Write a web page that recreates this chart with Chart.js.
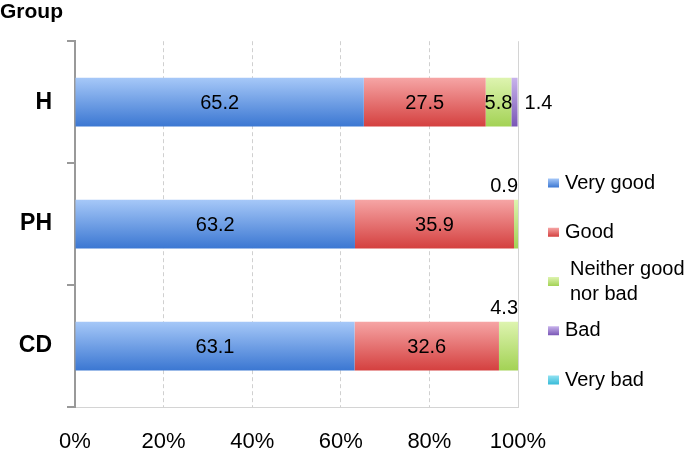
<!DOCTYPE html>
<html>
<head>
<meta charset="utf-8">
<script src="https://cdn.jsdelivr.net/npm/chart.js@4.4.0/dist/chart.umd.min.js"></script>
<style>
  html, body { margin: 0; padding: 0; background: #fff; }
  #wrap { width: 685px; height: 450px; }
</style>
</head>
<body>
<div id="wrap"><canvas id="chart" width="685" height="450"></canvas></div>
<script>
// data (percent of each group)
const groups = ['H', 'PH', 'CD'];
const seriesNames = ['Very good', 'Good', 'Neither good nor bad', 'Bad', 'Very bad'];
const veryGood = [65.2, 63.2, 63.1];
const good = [27.5, 35.9, 32.6];
const neither = [5.8, 0.9, 4.3];
const bad = [1.4, 0, 0];
const veryBad = [0, 0, 0];
const xTicks = [0, 20, 40, 60, 80, 100];

// top / bottom colours of the excel-like gradient
const PALETTE = [
  ['#a6c8f8', '#3b77d2'],
  ['#f6a5a5', '#d4403f'],
  ['#def4b0', '#a3d255'],
  ['#c8b3ec', '#7a57b6'],
  ['#92e2f2', '#38bbd8']
];
const FONT = '"Liberation Sans", Arial, sans-serif';
Chart.defaults.font.family = FONT;

function vGradient(ctx, top, bottom, colors) {
  const g = ctx.createLinearGradient(0, top, 0, bottom);
  g.addColorStop(0, colors[0]);
  g.addColorStop(1, colors[1]);
  return g;
}

function barFill(colors) {
  return (c) => {
    const chart = c.chart;
    const y = chart.scales.y;
    if (!y || c.dataIndex === undefined || !chart.chartArea) return colors[1];
    const mid = y.getPixelForValue(c.dataIndex);
    const half = (y.height / groups.length) * 0.4 / 2;
    return vGradient(chart.ctx, mid - half, mid + half, colors);
  };
}

function wrapText(ctx, text, maxWidth) {
  const words = text.split(' ');
  const lines = [];
  let line = '';
  words.forEach(w => {
    const test = line ? line + ' ' + w : w;
    if (ctx.measureText(test).width > maxWidth && line) {
      lines.push(line);
      line = w;
    } else {
      line = test;
    }
  });
  if (line) lines.push(line);
  return lines;
}

// values written on / next to the bars
const valueLabels = {
  id: 'valueLabels',
  afterDatasetsDraw(chart) {
    const { ctx } = chart;
    ctx.save();
    ctx.font = '20px ' + FONT;
    ctx.fillStyle = '#000';
    ctx.textBaseline = 'middle';
    chart.data.datasets.forEach((ds, di) => {
      const meta = chart.getDatasetMeta(di);
      meta.data.forEach((bar, i) => {
        const v = ds.data[i];
        if (!v) return;
        const { x, y, base, height } = bar.getProps(['x', 'y', 'base', 'height'], true);
        const text = v.toFixed(1);
        if (v >= 5) {
          ctx.textAlign = 'center';
          ctx.fillText(text, (x + base) / 2, y + 1);
        } else if (di === 3) {
          ctx.textAlign = 'left';
          ctx.fillText(text, x + 7, y + 1);
        } else {
          ctx.textAlign = 'right';
          ctx.fillText(text, x, y - height / 2 - 13);
        }
      });
    });
    ctx.restore();
  }
};

// right frame line + legend at the side
const sideLegend = {
  id: 'sideLegend',
  afterDraw(chart) {
    const { ctx, chartArea } = chart;
    ctx.save();
    ctx.strokeStyle = '#d4d4d4';
    ctx.lineWidth = 1;
    ctx.beginPath();
    ctx.moveTo(chartArea.right + 0.5, chartArea.top);
    ctx.lineTo(chartArea.right + 0.5, chartArea.bottom);
    ctx.stroke();

    const x = chartArea.right + 30;
    ctx.font = '20px ' + FONT;
    ctx.textBaseline = 'middle';
    ctx.textAlign = 'left';
    chart.data.datasets.forEach((ds, i) => {
      const cy = 183 + i * 49.25;
      ctx.fillStyle = vGradient(ctx, cy - 4.5, cy + 4.5, PALETTE[i]);
      ctx.fillRect(x, cy - 4.5, 11, 9);
      ctx.fillStyle = '#000';
      const lines = wrapText(ctx, ds.label, 125);
      lines.forEach((ln, k) => {
        const ly = cy + (k - (lines.length - 1) / 2) * 25;
        ctx.fillText(ln, x + 17 + (lines.length > 1 ? 5 : 0), ly);
      });
    });
    ctx.restore();
  }
};

const seriesData = [veryGood, good, neither, bad, veryBad];

new Chart(document.getElementById('chart'), {
  type: 'bar',
  data: {
    labels: groups,
    datasets: seriesData.map((d, i) => ({
      label: seriesNames[i],
      data: d,
      backgroundColor: barFill(PALETTE[i]),
      borderWidth: 0,
      categoryPercentage: 0.8,
      barPercentage: 0.5
    }))
  },
  options: {
    indexAxis: 'y',
    responsive: false,
    animation: false,
    layout: { padding: { left: 0, right: 167, top: 0, bottom: 0 } },
    plugins: {
      legend: { display: false },
      tooltip: { enabled: false },
      title: {
        display: true,
        text: 'Group',
        align: 'start',
        color: '#000',
        font: { size: 21, weight: 'bold', family: FONT },
        padding: { top: 0, bottom: 16 }
      }
    },
    scales: {
      x: {
        stacked: true,
        min: 0,
        max: 100,
        afterBuildTicks: scale => { scale.ticks = xTicks.map(v => ({ value: v })); },
        ticks: {
          callback: v => v + '%',
          color: '#000',
          font: { size: 22, family: FONT },
          padding: 22,
          maxRotation: 0
        },
        grid: {
          color: c => (c.tick && (c.tick.value === 0 || c.tick.value === 100)) ? 'rgba(0,0,0,0)' : '#d0d0d0',
          lineWidth: 1,
          drawTicks: false
        },
        border: { display: true, color: '#d4d4d4', width: 1, dash: [4, 3] },
        afterFit: scale => { scale.height = 43; }
      },
      y: {
        stacked: true,
        ticks: {
          color: '#000',
          font: { size: 23, weight: 'bold', family: FONT },
          padding: 15
        },
        grid: {
          drawOnChartArea: false,
          color: '#999',
          tickColor: '#999',
          tickLength: 8,
          lineWidth: 2,
          offset: true
        },
        border: { color: '#999', width: 2 },
        afterFit: scale => { scale.width = 75; }
      }
    }
  },
  plugins: [valueLabels, sideLegend]
});
</script>
</body>
</html>
